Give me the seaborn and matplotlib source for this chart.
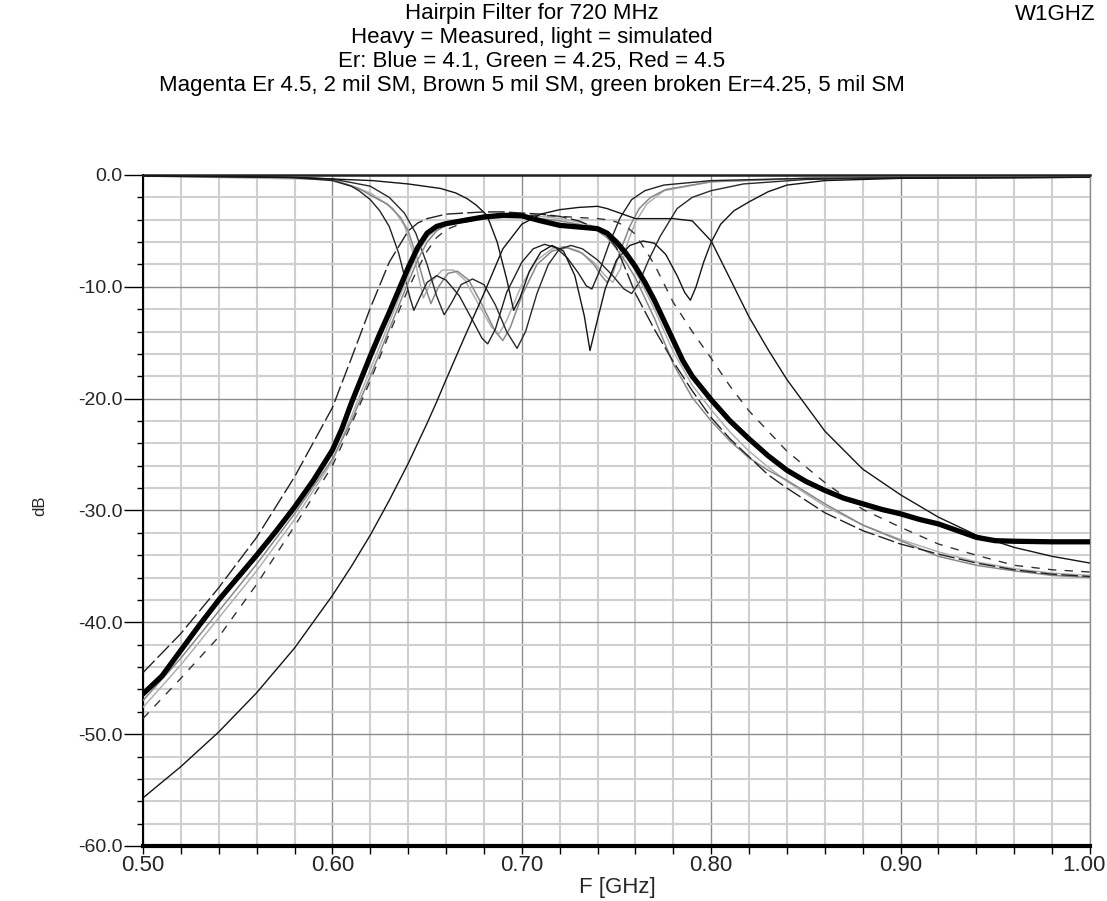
import matplotlib
matplotlib.use("Agg")
import matplotlib.pyplot as plt
import matplotlib.transforms as mtransforms
import seaborn as sns
import pandas as pd
from matplotlib.ticker import MultipleLocator, FormatStrFormatter

# ---------------- data ----------------
freq_meas = [0.50, 0.51, 0.52, 0.53, 0.54, 0.55, 0.56, 0.57, 0.58, 0.59,
             0.60, 0.605, 0.61, 0.615, 0.62, 0.625, 0.63, 0.635, 0.64, 0.645,
             0.65, 0.655, 0.66, 0.67, 0.68, 0.69, 0.70, 0.71, 0.72, 0.73,
             0.74, 0.745, 0.75, 0.755, 0.76, 0.765, 0.77, 0.775, 0.78, 0.785,
             0.79, 0.80, 0.81, 0.82, 0.83, 0.84, 0.85, 0.86, 0.87, 0.88,
             0.89, 0.90, 0.91, 0.92, 0.93, 0.94, 0.95, 0.96, 0.98, 1.00]
s21_measured = [-46.4, -44.8, -42.5, -40.2, -38.0, -36.0, -34.0, -31.9, -29.7, -27.3,
                -24.6, -22.7, -20.4, -18.3, -16.2, -14.2, -12.3, -10.3, -8.3, -6.5,
                -5.2, -4.6, -4.35, -4.05, -3.75, -3.6, -3.65, -4.1, -4.5, -4.65,
                -4.8, -5.2, -6.0, -7.0, -8.2, -9.6, -11.2, -13.0, -14.8, -16.6,
                -18.0, -20.1, -22.0, -23.6, -25.1, -26.4, -27.4, -28.2, -28.9, -29.4,
                -29.9, -30.3, -30.8, -31.2, -31.8, -32.4, -32.7, -32.75, -32.8, -32.8]

freq_s21 = [0.50, 0.52, 0.54, 0.56, 0.58, 0.60, 0.61, 0.62, 0.63, 0.64,
            0.645, 0.65, 0.655, 0.66, 0.67, 0.68, 0.69, 0.70, 0.71, 0.72,
            0.73, 0.74, 0.745, 0.75, 0.755, 0.76, 0.77, 0.78, 0.79, 0.80,
            0.81, 0.82, 0.83, 0.84, 0.86, 0.88, 0.90, 0.92, 0.94, 0.96,
            0.98, 1.00]

s21_blue_er41 = [-55.7, -52.9, -49.8, -46.3, -42.3, -37.6, -35.0, -32.2, -29.1, -25.8,
                 -24.0, -22.2, -20.3, -18.3, -14.4, -10.6, -6.6, -4.4, -3.5, -3.1,
                 -2.9, -2.8, -3.0, -3.3, -3.6, -3.9, -3.9, -3.9, -4.1, -5.9,
                 -9.3, -12.7, -15.6, -18.3, -22.9, -26.3, -28.6, -30.6, -32.2, -33.3,
                 -34.1, -34.7]

s21_red_er45 = [-44.5, -41.0, -36.9, -32.4, -27.0, -20.8, -16.4, -11.9, -7.8, -5.0,
                -4.3, -3.9, -3.7, -3.5, -3.4, -3.3, -3.3, -3.4, -3.5, -3.7,
                -4.1, -4.8, -5.4, -6.5, -8.5, -10.6, -13.8, -16.7, -19.3, -21.7,
                -23.6, -25.2, -26.8, -28.0, -30.2, -31.8, -33.0, -33.9, -34.7, -35.3,
                -35.7, -35.9]

s21_green_broken = [-48.6, -45.0, -41.3, -36.6, -31.4, -26.0, -22.3, -18.4, -14.2, -10.2,
                    -8.4, -6.8, -5.6, -4.9, -4.2, -3.9, -3.7, -3.6, -3.6, -3.7,
                    -3.8, -3.9, -4.0, -4.2, -4.6, -5.3, -8.0, -11.4, -14.0, -16.4,
                    -18.9, -21.1, -22.9, -24.7, -27.5, -29.9, -31.5, -33.0, -34.0, -34.9,
                    -35.3, -35.5]

s21_green_er425 = [-47.0, -43.2, -39.0, -34.8, -30.3, -25.4, -22.0, -18.0, -13.8, -9.6,
                   -7.6, -6.0, -5.0, -4.5, -4.1, -3.9, -3.8, -3.8, -3.9, -4.1,
                   -4.4, -5.0, -5.6, -6.6, -7.8, -9.2, -12.8, -16.9, -19.9, -22.0,
                   -23.8, -25.3, -26.4, -27.3, -29.4, -31.3, -32.7, -34.1, -34.9, -35.4,
                   -35.8, -36.0]

s21_magenta_2mil = [-47.6, -43.8, -39.6, -35.4, -30.8, -25.6, -21.6, -17.4, -13.2, -9.0,
                    -7.0, -5.6, -4.8, -4.3, -3.9, -3.7, -3.6, -3.6, -3.7, -3.9,
                    -4.2, -4.7, -5.2, -6.0, -7.2, -8.6, -12.0, -15.8, -18.8, -21.0,
                    -23.0, -24.7, -26.1, -27.4, -29.6, -31.3, -32.6, -33.7, -34.6, -35.2,
                    -35.6, -35.8]

freq_s11_blue = [0.50, 0.577, 0.621, 0.64, 0.657, 0.665, 0.671, 0.676, 0.6816, 0.687,
                 0.692, 0.6957, 0.699, 0.704, 0.710, 0.716, 0.722, 0.728, 0.733, 0.736,
                 0.739, 0.744, 0.750, 0.757, 0.764, 0.770, 0.776, 0.782, 0.786, 0.789,
                 0.792, 0.796, 0.800, 0.805, 0.812, 0.820, 0.830, 0.840, 0.860, 0.900,
                 1.00]
s11_blue = [-0.05, -0.2, -0.5, -0.8, -1.2, -1.6, -2.1, -2.7, -3.6, -6.0,
            -9.3, -12.1, -11.0, -8.6, -6.9, -6.3, -6.8, -9.0, -12.6, -15.7,
            -13.6, -10.2, -7.6, -6.3, -5.9, -6.1, -7.1, -9.0, -10.5, -11.2,
            -10.0, -7.8, -6.0, -4.4, -3.2, -2.4, -1.5, -0.9, -0.5, -0.3,
            -0.2]

freq_s11_red = [0.50, 0.55, 0.58, 0.60, 0.61, 0.614, 0.62, 0.625, 0.63, 0.635,
                0.638, 0.641, 0.643, 0.646, 0.650, 0.655, 0.660, 0.667, 0.674, 0.679,
                0.682, 0.686, 0.692, 0.700, 0.706, 0.712, 0.718, 0.724, 0.730, 0.734,
                0.737, 0.741, 0.746, 0.752, 0.758, 0.765, 0.775, 0.80, 0.85, 0.90,
                1.00]
s11_red = [-0.1, -0.15, -0.25, -0.5, -1.0, -1.4, -2.2, -3.2, -4.6, -7.0,
           -9.0, -11.0, -12.1, -11.0, -9.6, -9.0, -9.4, -10.8, -13.0, -14.6,
           -15.1, -13.8, -10.5, -7.8, -6.6, -6.2, -6.5, -7.4, -8.8, -9.9,
           -10.2, -8.6, -6.2, -3.8, -2.2, -1.4, -0.9, -0.5, -0.3, -0.25,
           -0.2]

freq_s11_green = [0.50, 0.58, 0.60, 0.614, 0.62, 0.629, 0.636, 0.640, 0.645, 0.649,
                  0.652, 0.656, 0.661, 0.666, 0.672, 0.679, 0.686, 0.690, 0.694, 0.700,
                  0.708, 0.716, 0.724, 0.732, 0.738, 0.742, 0.745, 0.748, 0.752, 0.757,
                  0.762, 0.768, 0.776, 0.80, 0.85, 1.00]
s11_green = [-0.1, -0.2, -0.4, -1.2, -1.8, -2.6, -3.8, -5.0, -7.6, -10.0,
             -11.5, -10.0, -8.8, -8.6, -9.4, -11.6, -14.0, -14.8, -13.6, -10.8,
             -8.0, -6.8, -6.5, -7.0, -8.0, -9.0, -9.6, -8.8, -6.8, -4.6,
             -3.0, -2.0, -1.3, -0.6, -0.3, -0.2]

freq_s11_broken = [0.50, 0.58, 0.60, 0.62, 0.63, 0.638, 0.644, 0.650, 0.655, 0.659,
                   0.663, 0.668, 0.674, 0.680, 0.686, 0.692, 0.6975, 0.702, 0.708, 0.714,
                   0.720, 0.726, 0.732, 0.740, 0.748, 0.754, 0.758, 0.762, 0.767, 0.773,
                   0.782, 0.790, 0.800, 0.817, 0.85, 0.90, 1.00]
s11_broken = [-0.1, -0.2, -0.35, -1.0, -2.0, -3.4, -5.2, -8.0, -10.8, -12.5,
              -11.4, -9.8, -9.3, -9.8, -11.6, -14.0, -15.5, -14.0, -10.6, -8.0,
              -6.6, -6.3, -6.6, -7.6, -9.0, -10.2, -10.6, -9.6, -7.6, -5.5,
              -3.0, -2.0, -1.4, -0.8, -0.4, -0.25, -0.2]

freq_s11_magenta = [0.50, 0.60, 0.62, 0.632, 0.638, 0.643, 0.648, 0.652, 0.658, 0.664,
                    0.670, 0.678, 0.684, 0.688, 0.692, 0.700, 0.708, 0.716, 0.722, 0.730,
                    0.738, 0.744, 0.748, 0.752, 0.756, 0.760, 0.766, 0.775, 0.80, 0.85,
                    1.00]
s11_magenta = [-0.1, -0.4, -1.6, -3.0, -4.5, -7.2, -11.0, -9.6, -8.5, -8.5,
               -9.4, -11.8, -13.6, -14.2, -13.0, -9.8, -7.6, -6.6, -6.4, -6.8,
               -7.8, -9.0, -9.6, -8.4, -6.0, -4.2, -2.6, -1.4, -0.6, -0.3,
               -0.2]

x_ticks = [0.50, 0.60, 0.70, 0.80, 0.90, 1.00]
y_ticks = [0, -10, -20, -30, -40, -50, -60]

title_lines = ["Hairpin Filter for 720 MHz",
               "Heavy = Measured, light = simulated",
               "Er: Blue = 4.1, Green = 4.25, Red = 4.5",
               "Magenta Er 4.5, 2 mil SM, Brown 5 mil SM, green broken Er=4.25, 5 mil SM"]

# ---------------- styling ----------------
sns.set_theme(style="white")
plt.rcParams['font.family'] = ['Liberation Sans', 'DejaVu Sans']
plt.rcParams['axes.unicode_minus'] = False

W, H = 1107, 901
fig = plt.figure(figsize=(W / 100, H / 100), dpi=100)
left_px, right_px, top_px, bot_px = 143, 1090, 175, 846
ax = fig.add_axes([left_px / W, 1 - bot_px / H, (right_px - left_px) / W, (bot_px - top_px) / H])
ax.set_facecolor("white")

def draw(freq, vals, color, lw, ls="-", z=3):
    df = pd.DataFrame({"f": freq, "dB": vals})
    sns.lineplot(data=df, x="f", y="dB", ax=ax, color=color, linewidth=lw,
                 linestyle=ls, sort=False, estimator=None, zorder=z)

# S11 curves (thin)
draw(freq_s11_magenta, s11_magenta, "#b0b0b0", 1.1)
draw(freq_s11_green, s11_green, "#888888", 1.1)
draw(freq_s11_broken, s11_broken, "#2a2a2a", 1.0)
draw(freq_s11_red, s11_red, "#222222", 1.0)
draw(freq_s11_blue, s11_blue, "#151515", 1.0)

# simulated S21 curves
draw(freq_s21, s21_magenta_2mil, "#b0b0b0", 1.1)
draw(freq_s21, s21_green_er425, "#888888", 1.1)
draw(freq_s21, s21_green_broken, "#333333", 1.0, ls=(0, (6, 6)))
draw(freq_s21, s21_red_er45, "#222222", 1.0, ls=(0, (12, 3)))
draw(freq_s21, s21_blue_er41, "#151515", 1.0)

# measured
draw(freq_meas, s21_measured, "#000000", 3.8, z=5)

ax.set_xlim(0.50, 1.00)
ax.set_ylim(-60, 0)
ax.set_xticks(x_ticks)
ax.set_yticks(y_ticks)
ax.xaxis.set_minor_locator(MultipleLocator(0.02))
ax.yaxis.set_minor_locator(MultipleLocator(2))
ax.xaxis.set_major_formatter(FormatStrFormatter("%.2f"))
ax.yaxis.set_major_formatter(FormatStrFormatter("%.1f"))
ax.set_xlabel("")
ax.set_ylabel("")

ax.grid(which="minor", color="#cfcfcf", linewidth=1.5, zorder=0)
ax.grid(which="major", color="#8c8c8c", linewidth=1.0, zorder=0)
ax.set_axisbelow(True)

ax.tick_params(axis="y", which="major", length=14, width=1.0, color="black",
               labelsize=14, pad=0.5, left=True)
ax.tick_params(axis="y", which="minor", length=4, width=1.0, color="black", left=True)
ax.tick_params(axis="x", which="major", length=6, width=1.0, color="black",
               labelsize=16, pad=0.5, bottom=True)
ax.tick_params(axis="x", which="minor", length=6, width=1.0, color="black", bottom=True)

# keep the last x label inside the picture, as in the reference
fig.canvas.draw()
last = ax.get_xticklabels()[-1]
last.set_transform(last.get_transform() +
                   mtransforms.ScaledTranslation(-6 / 100, 0, fig.dpi_scale_trans))

for side in ["left", "top", "bottom", "right"]:
    ax.spines[side].set_visible(True)
ax.spines["left"].set_color("black")
ax.spines["left"].set_linewidth(1.5)
ax.spines["top"].set_color("#222222")
ax.spines["top"].set_linewidth(1.8)
ax.spines["bottom"].set_color("black")
ax.spines["bottom"].set_linewidth(3.0)
ax.spines["right"].set_color("#8c8c8c")
ax.spines["right"].set_linewidth(1.0)

# titles
title_y = [14, 38, 61, 85]
for txt, yp in zip(title_lines, title_y):
    fig.text(532 / W, 1 - yp / H, txt, ha="center", va="center", fontsize=16, color="black")
fig.text(1096 / W, 1 - 14 / H, "W1GHZ", ha="right", va="center", fontsize=16, color="black")

fig.text(617 / W, 1 - 887 / H, "F [GHz]", ha="center", va="center", fontsize=16)
fig.text(40 / W, 1 - 506 / H, "dB", ha="center", va="center", rotation=90, fontsize=12)

fig.savefig("out.png", dpi=100, facecolor="white")
